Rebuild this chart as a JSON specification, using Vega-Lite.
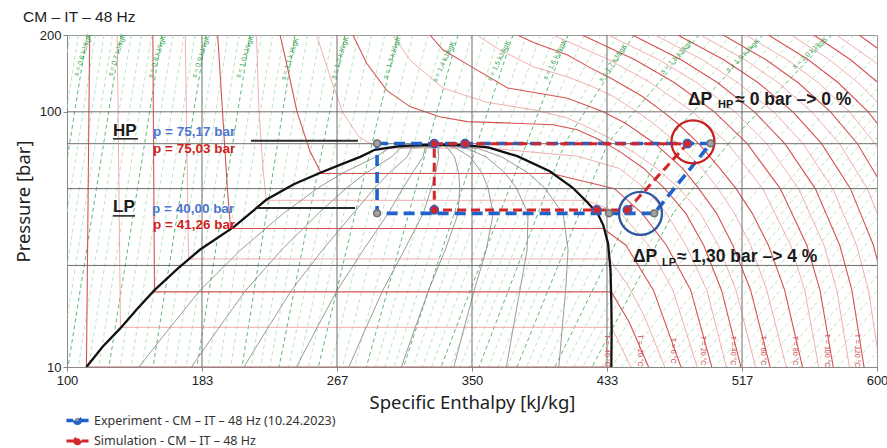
{
  "$schema": "https://vega.github.io/schema/vega-lite/v6.json",
  "width": 810,
  "height": 332,
  "autosize": {"type": "none"},
  "padding": {"left": 67, "top": 35, "right": 10, "bottom": 81},
  "background": "white",
  "title": {"text": "CM – IT – 48 Hz", "anchor": "start", "frame": "group", "dx": -44, "offset": 4, "fontSize": 15.5, "font": "Liberation Sans", "fontWeight": "normal", "color": "#222"},
  "config": {
    "view": {"stroke": "#9a9a9a"},
    "axis": {"grid": false, "labelFlush": false, "labelFont": "Liberation Sans", "labelFontSize": 13, "labelColor": "#222", "titleFont": "Noto Sans", "titleFontSize": 18.5, "titleFontWeight": "normal", "titleColor": "#222", "domainColor": "#888", "tickColor": "#888"}
  },
  "resolve": {"scale": {"color": "independent", "stroke": "independent", "fill": "independent", "size": "independent", "strokeWidth": "independent", "strokeDash": "independent", "angle": "independent"}},
  "datasets": {
    "isentropes": [
      {"s":0.55,"h1":101.9,"p1":200,"h2":69,"p2":10,"kind":"fine"},
      {"s":0.575,"h1":107.1,"p1":200,"h2":74.3,"p2":10,"kind":"fine"},
      {"s":0.6,"h1":112.3,"p1":200,"h2":79.6,"p2":10,"kind":"labeled"},
      {"s":0.625,"h1":117.55,"p1":200,"h2":84.85,"p2":10,"kind":"fine"},
      {"s":0.65,"h1":122.8,"p1":200,"h2":90.1,"p2":10,"kind":"fine"},
      {"s":0.675,"h1":128.05,"p1":200,"h2":95.35,"p2":10,"kind":"fine"},
      {"s":0.7,"h1":133.3,"p1":200,"h2":100.6,"p2":10,"kind":"labeled"},
      {"s":0.725,"h1":139.65,"p1":200,"h2":106.95,"p2":10,"kind":"fine"},
      {"s":0.75,"h1":146,"p1":200,"h2":113.3,"p2":10,"kind":"fine"},
      {"s":0.775,"h1":152.3,"p1":200,"h2":119.6,"p2":10,"kind":"fine"},
      {"s":0.8,"h1":158.6,"p1":200,"h2":125.9,"p2":10,"kind":"labeled"},
      {"s":0.825,"h1":165.4,"p1":200,"h2":132.7,"p2":10,"kind":"fine"},
      {"s":0.85,"h1":172.2,"p1":200,"h2":139.5,"p2":10,"kind":"fine"},
      {"s":0.875,"h1":179,"p1":200,"h2":146.3,"p2":10,"kind":"fine"},
      {"s":0.9,"h1":185.8,"p1":200,"h2":153.1,"p2":10,"kind":"labeled"},
      {"s":0.925,"h1":192.6,"p1":200,"h2":159.9,"p2":10,"kind":"fine"},
      {"s":0.95,"h1":199.4,"p1":200,"h2":166.7,"p2":10,"kind":"fine"},
      {"s":0.975,"h1":206.2,"p1":200,"h2":173.45,"p2":10,"kind":"fine"},
      {"s":1.0,"h1":213,"p1":200,"h2":180.2,"p2":10,"kind":"labeled"},
      {"s":1.025,"h1":219.95,"p1":200,"h2":187.15,"p2":10,"kind":"fine"},
      {"s":1.05,"h1":226.9,"p1":200,"h2":194.1,"p2":10,"kind":"fine"},
      {"s":1.075,"h1":233.8,"p1":200,"h2":201.05,"p2":10,"kind":"fine"},
      {"s":1.1,"h1":240.7,"p1":200,"h2":208,"p2":10,"kind":"labeled"},
      {"s":1.125,"h1":248.45,"p1":200,"h2":213.7,"p2":10,"kind":"fine"},
      {"s":1.15,"h1":256.2,"p1":200,"h2":219.4,"p2":10,"kind":"fine"},
      {"s":1.175,"h1":263.9,"p1":200,"h2":225.15,"p2":10,"kind":"fine"},
      {"s":1.2,"h1":271.6,"p1":200,"h2":230.9,"p2":10,"kind":"labeled"},
      {"s":1.225,"h1":279.8,"p1":200,"h2":236.9,"p2":10,"kind":"fine"},
      {"s":1.25,"h1":288,"p1":200,"h2":242.9,"p2":10,"kind":"fine"},
      {"s":1.275,"h1":296.15,"p1":200,"h2":249.05,"p2":10,"kind":"fine"},
      {"s":1.3,"h1":304.3,"p1":200,"h2":255.2,"p2":10,"kind":"labeled"},
      {"s":1.325,"h1":313.55,"p1":200,"h2":262.6,"p2":10,"kind":"fine"},
      {"s":1.35,"h1":322.8,"p1":200,"h2":270,"p2":10,"kind":"fine"},
      {"s":1.375,"h1":332.1,"p1":200,"h2":277.4,"p2":10,"kind":"fine"},
      {"s":1.4,"h1":341.4,"p1":200,"h2":284.8,"p2":10,"kind":"labeled"},
      {"s":1.425,"h1":349.85,"p1":200,"h2":290.5,"p2":10,"kind":"fine"},
      {"s":1.45,"h1":358.3,"p1":200,"h2":296.2,"p2":10,"kind":"fine"},
      {"s":1.475,"h1":366.8,"p1":200,"h2":301.95,"p2":10,"kind":"fine"},
      {"s":1.5,"h1":375.3,"p1":200,"h2":307.7,"p2":10,"kind":"labeled"},
      {"s":1.525,"h1":383.8,"p1":200,"h2":313.5,"p2":10,"kind":"fine"},
      {"s":1.55,"h1":392.3,"p1":200,"h2":319.3,"p2":10,"kind":"fine"},
      {"s":1.575,"h1":400.8,"p1":200,"h2":325.1,"p2":10,"kind":"fine"},
      {"s":1.6,"h1":409.3,"p1":200,"h2":330.9,"p2":10,"kind":"labeled"},
      {"s":1.625,"h1":419.45,"p1":200,"h2":389.7,"p2":75.5,"kind":"fine"},
      {"s":1.625,"h1":389.7,"p1":75.5,"h2":336.75,"p2":10,"kind":"fine"},
      {"s":1.65,"h1":429.6,"p1":200,"h2":395.6,"p2":75.5,"kind":"fine"},
      {"s":1.65,"h1":395.6,"p1":75.5,"h2":342.6,"p2":10,"kind":"fine"},
      {"s":1.675,"h1":439.8,"p1":200,"h2":401.5,"p2":75.5,"kind":"fine"},
      {"s":1.675,"h1":401.5,"p1":75.5,"h2":348.45,"p2":10,"kind":"fine"},
      {"s":1.7,"h1":450,"p1":200,"h2":407.4,"p2":75.5,"kind":"labeled"},
      {"s":1.7,"h1":407.4,"p1":75.5,"h2":354.3,"p2":10,"kind":"labeled"},
      {"s":1.725,"h1":460.05,"p1":200,"h2":414.05,"p2":75.5,"kind":"fine"},
      {"s":1.725,"h1":414.05,"p1":75.5,"h2":360.15,"p2":10,"kind":"fine"},
      {"s":1.75,"h1":470.1,"p1":200,"h2":420.7,"p2":75.5,"kind":"fine"},
      {"s":1.75,"h1":420.7,"p1":75.5,"h2":366,"p2":10,"kind":"fine"},
      {"s":1.775,"h1":480.1,"p1":200,"h2":427.3,"p2":75.5,"kind":"fine"},
      {"s":1.775,"h1":427.3,"p1":75.5,"h2":371.9,"p2":10,"kind":"fine"},
      {"s":1.8,"h1":490.1,"p1":200,"h2":433.9,"p2":75.5,"kind":"labeled"},
      {"s":1.8,"h1":433.9,"p1":75.5,"h2":377.8,"p2":10,"kind":"labeled"},
      {"s":1.825,"h1":500,"p1":200,"h2":442.7,"p2":75.5,"kind":"fine"},
      {"s":1.825,"h1":442.7,"p1":75.5,"h2":383.65,"p2":10,"kind":"fine"},
      {"s":1.85,"h1":509.9,"p1":200,"h2":451.5,"p2":75.5,"kind":"fine"},
      {"s":1.85,"h1":451.5,"p1":75.5,"h2":389.5,"p2":10,"kind":"fine"},
      {"s":1.875,"h1":519.75,"p1":200,"h2":460.25,"p2":75.5,"kind":"fine"},
      {"s":1.875,"h1":460.25,"p1":75.5,"h2":395.35,"p2":10,"kind":"fine"},
      {"s":1.9,"h1":529.6,"p1":200,"h2":469,"p2":75.5,"kind":"labeled"},
      {"s":1.9,"h1":469,"p1":75.5,"h2":401.2,"p2":10,"kind":"labeled"},
      {"s":1.925,"h1":540.25,"p1":200,"h2":478.95,"p2":75.5,"kind":"fine"},
      {"s":1.925,"h1":478.95,"p1":75.5,"h2":406.95,"p2":10,"kind":"fine"},
      {"s":1.95,"h1":550.9,"p1":200,"h2":488.9,"p2":75.5,"kind":"fine"},
      {"s":1.95,"h1":488.9,"p1":75.5,"h2":412.7,"p2":10,"kind":"fine"},
      {"s":1.975,"h1":561.55,"p1":200,"h2":498.75,"p2":75.5,"kind":"fine"},
      {"s":1.975,"h1":498.75,"p1":75.5,"h2":469.5,"p2":40,"kind":"fine"},
      {"s":1.975,"h1":469.5,"p1":40,"h2":418.4,"p2":10,"kind":"fine"},
      {"s":2.0,"h1":572.2,"p1":200,"h2":508.6,"p2":75.5,"kind":"labeled"},
      {"s":2.0,"h1":508.6,"p1":75.5,"h2":474.1,"p2":40,"kind":"labeled"},
      {"s":2.0,"h1":474.1,"p1":40,"h2":424.1,"p2":10,"kind":"labeled"},
      {"s":2.025,"h1":585.8,"p1":200,"h2":522.2,"p2":75.5,"kind":"fine"},
      {"s":2.025,"h1":522.2,"p1":75.5,"h2":486.6,"p2":40,"kind":"fine"},
      {"s":2.025,"h1":486.6,"p1":40,"h2":430.1,"p2":10,"kind":"fine"},
      {"s":2.05,"h1":599.4,"p1":200,"h2":535.8,"p2":75.5,"kind":"fine"},
      {"s":2.05,"h1":535.8,"p1":75.5,"h2":499.1,"p2":40,"kind":"fine"},
      {"s":2.05,"h1":499.1,"p1":40,"h2":436.1,"p2":10,"kind":"fine"},
      {"s":2.075,"h1":610.8,"p1":200,"h2":550.65,"p2":75.5,"kind":"fine"},
      {"s":2.075,"h1":550.65,"p1":75.5,"h2":514,"p2":40,"kind":"fine"},
      {"s":2.075,"h1":514,"p1":40,"h2":442.1,"p2":10,"kind":"fine"},
      {"s":2.1,"h1":622.2,"p1":200,"h2":448.1,"p2":10,"kind":"fine"},
      {"s":2.125,"h1":628.4,"p1":200,"h2":454.3,"p2":10,"kind":"fine"},
      {"s":2.15,"h1":634.6,"p1":200,"h2":460.5,"p2":10,"kind":"fine"},
      {"s":2.175,"h1":640.75,"p1":200,"h2":466.65,"p2":10,"kind":"fine"},
      {"s":2.2,"h1":646.9,"p1":200,"h2":472.8,"p2":10,"kind":"fine"},
      {"s":2.225,"h1":653.7,"p1":200,"h2":479.6,"p2":10,"kind":"fine"},
      {"s":2.25,"h1":660.5,"p1":200,"h2":486.4,"p2":10,"kind":"fine"},
      {"s":2.275,"h1":667.3,"p1":200,"h2":493.2,"p2":10,"kind":"fine"},
      {"s":2.3,"h1":674.1,"p1":200,"h2":500,"p2":10,"kind":"fine"},
      {"s":2.325,"h1":681.35,"p1":200,"h2":507.25,"p2":10,"kind":"fine"},
      {"s":2.35,"h1":688.6,"p1":200,"h2":514.5,"p2":10,"kind":"fine"},
      {"s":2.375,"h1":695.85,"p1":200,"h2":521.75,"p2":10,"kind":"fine"},
      {"s":2.4,"h1":703.1,"p1":200,"h2":529,"p2":10,"kind":"fine"},
      {"s":2.425,"h1":710.8,"p1":200,"h2":536.7,"p2":10,"kind":"fine"},
      {"s":2.45,"h1":718.5,"p1":200,"h2":544.4,"p2":10,"kind":"fine"},
      {"s":2.475,"h1":726.2,"p1":200,"h2":552.15,"p2":10,"kind":"fine"},
      {"s":2.5,"h1":733.9,"p1":200,"h2":559.9,"p2":10,"kind":"fine"},
      {"s":2.525,"h1":741.95,"p1":200,"h2":567.9,"p2":10,"kind":"fine"},
      {"s":2.55,"h1":750,"p1":200,"h2":575.9,"p2":10,"kind":"fine"},
      {"s":2.575,"h1":758,"p1":200,"h2":583.95,"p2":10,"kind":"fine"},
      {"s":2.6,"h1":766,"p1":200,"h2":592,"p2":10,"kind":"fine"},
      {"s":2.625,"h1":774,"p1":200,"h2":600,"p2":10,"kind":"fine"},
      {"s":2.65,"h1":782,"p1":200,"h2":608,"p2":10,"kind":"fine"}
    ],
    "isotherms": [
      {"T":-40,"kind":"major","o":1,"h":114,"p":200},{"T":-40,"kind":"major","o":2,"h":112,"p":10},{"T":-40,"kind":"major","o":3,"h":436,"p":10},
      {"T":-30,"kind":"minor","o":1,"h":131,"p":200},{"T":-30,"kind":"minor","o":2,"h":133,"p":14.3},{"T":-30,"kind":"minor","o":3,"h":436.2,"p":14.3},{"T":-30,"kind":"minor","o":4,"h":448,"p":10},
      {"T":-20,"kind":"major","o":1,"h":153,"p":200},{"T":-20,"kind":"major","o":2,"h":154,"p":19.7},{"T":-20,"kind":"major","o":3,"h":436,"p":19.7},{"T":-20,"kind":"major","o":4,"h":447,"p":15},{"T":-20,"kind":"major","o":5,"h":459,"p":10},
      {"T":-10,"kind":"minor","o":1,"h":173,"p":200},{"T":-10,"kind":"minor","o":2,"h":175,"p":26.5},{"T":-10,"kind":"minor","o":3,"h":435,"p":26.5},{"T":-10,"kind":"minor","o":4,"h":446,"p":21},{"T":-10,"kind":"minor","o":5,"h":456,"p":16},{"T":-10,"kind":"minor","o":6,"h":469,"p":10},
      {"T":0,"kind":"major","o":1,"h":193,"p":200},{"T":0,"kind":"major","o":2,"h":196,"p":100},{"T":0,"kind":"major","o":3,"h":199,"p":50},{"T":0,"kind":"major","o":4,"h":201,"p":34.9},{"T":0,"kind":"major","o":5,"h":431,"p":34.9},{"T":0,"kind":"major","o":6,"h":445,"p":30},{"T":0,"kind":"major","o":7,"h":462,"p":20},{"T":0,"kind":"major","o":8,"h":479,"p":10},
      {"T":10,"kind":"minor","o":1,"h":217,"p":200},{"T":10,"kind":"minor","o":2,"h":218.5,"p":100},{"T":10,"kind":"minor","o":3,"h":221,"p":60},{"T":10,"kind":"minor","o":4,"h":223,"p":45},{"T":10,"kind":"minor","o":5,"h":420,"p":45},{"T":10,"kind":"minor","o":6,"h":442,"p":40},{"T":10,"kind":"minor","o":7,"h":459,"p":30},{"T":10,"kind":"minor","o":8,"h":474,"p":20},{"T":10,"kind":"minor","o":9,"h":489,"p":10},
      {"T":20,"kind":"major","o":1,"h":231.5,"p":200},{"T":20,"kind":"major","o":2,"h":236,"p":150},{"T":20,"kind":"major","o":3,"h":242,"p":100},{"T":20,"kind":"major","o":4,"h":250,"p":70},{"T":20,"kind":"major","o":5,"h":257,"p":57.3},{"T":20,"kind":"major","o":6,"h":399,"p":57.3},{"T":20,"kind":"major","o":7,"h":438,"p":50},{"T":20,"kind":"major","o":8,"h":455,"p":40},{"T":20,"kind":"major","o":9,"h":470,"p":30},{"T":20,"kind":"major","o":10,"h":485,"p":20},{"T":20,"kind":"major","o":11,"h":498,"p":10},
      {"T":30,"kind":"minor","o":1,"h":254,"p":200},{"T":30,"kind":"minor","o":2,"h":262,"p":140},{"T":30,"kind":"minor","o":3,"h":270,"p":100},{"T":30,"kind":"minor","o":4,"h":280,"p":80},{"T":30,"kind":"minor","o":5,"h":292,"p":72.1},{"T":30,"kind":"minor","o":6,"h":360,"p":72.1},{"T":30,"kind":"minor","o":7,"h":415,"p":67},{"T":30,"kind":"minor","o":8,"h":441,"p":60},{"T":30,"kind":"minor","o":9,"h":457,"p":50},{"T":30,"kind":"minor","o":10,"h":470,"p":40},{"T":30,"kind":"minor","o":11,"h":482,"p":30},{"T":30,"kind":"minor","o":12,"h":495,"p":20},{"T":30,"kind":"minor","o":13,"h":507,"p":10},
      {"T":40,"kind":"major","o":1,"h":276.5,"p":200},{"T":40,"kind":"major","o":2,"h":285,"p":155},{"T":40,"kind":"major","o":3,"h":297.5,"p":121},{"T":40,"kind":"major","o":4,"h":312,"p":104.6},{"T":40,"kind":"major","o":5,"h":330,"p":95.6},{"T":40,"kind":"major","o":6,"h":347,"p":91.5},{"T":40,"kind":"major","o":7,"h":370,"p":90.5},{"T":40,"kind":"major","o":8,"h":400,"p":89},{"T":40,"kind":"major","o":9,"h":415,"p":85},{"T":40,"kind":"major","o":10,"h":428,"p":78},{"T":40,"kind":"major","o":11,"h":441,"p":70},{"T":40,"kind":"major","o":12,"h":456,"p":60},{"T":40,"kind":"major","o":13,"h":469,"p":50},{"T":40,"kind":"major","o":14,"h":482,"p":40},{"T":40,"kind":"major","o":15,"h":493,"p":30},{"T":40,"kind":"major","o":16,"h":504,"p":20},{"T":40,"kind":"major","o":17,"h":516,"p":10},
      {"T":50,"kind":"minor","o":1,"h":301,"p":200},{"T":50,"kind":"minor","o":2,"h":312,"p":159},{"T":50,"kind":"minor","o":3,"h":332,"p":124},{"T":50,"kind":"minor","o":4,"h":359,"p":109},{"T":50,"kind":"minor","o":5,"h":388,"p":101.8},{"T":50,"kind":"minor","o":6,"h":408,"p":95},{"T":50,"kind":"minor","o":7,"h":420,"p":88},{"T":50,"kind":"minor","o":8,"h":433,"p":80},{"T":50,"kind":"minor","o":9,"h":449,"p":70},{"T":50,"kind":"minor","o":10,"h":464,"p":60},{"T":50,"kind":"minor","o":11,"h":478,"p":50},{"T":50,"kind":"minor","o":12,"h":491,"p":40},{"T":50,"kind":"minor","o":13,"h":502,"p":30},{"T":50,"kind":"minor","o":14,"h":513,"p":20},{"T":50,"kind":"minor","o":15,"h":525,"p":10},
      {"T":60,"kind":"major","o":1,"h":324,"p":200},{"T":60,"kind":"major","o":2,"h":332,"p":175},{"T":60,"kind":"major","o":3,"h":349,"p":151},{"T":60,"kind":"major","o":4,"h":372,"p":124},{"T":60,"kind":"major","o":5,"h":392,"p":118},{"T":60,"kind":"major","o":6,"h":409,"p":113},{"T":60,"kind":"major","o":7,"h":431,"p":100},{"T":60,"kind":"major","o":8,"h":445,"p":90},{"T":60,"kind":"major","o":9,"h":463,"p":75},{"T":60,"kind":"major","o":10,"h":480,"p":60},{"T":60,"kind":"major","o":11,"h":490,"p":50},{"T":60,"kind":"major","o":12,"h":501,"p":40},{"T":60,"kind":"major","o":13,"h":511,"p":30},{"T":60,"kind":"major","o":14,"h":522,"p":20},{"T":60,"kind":"major","o":15,"h":534,"p":10},
      {"T":70,"kind":"minor","o":1,"h":353,"p":200},{"T":70,"kind":"minor","o":2,"h":367,"p":175},{"T":70,"kind":"minor","o":3,"h":388,"p":150},{"T":70,"kind":"minor","o":4,"h":409,"p":137},{"T":70,"kind":"minor","o":5,"h":425,"p":125},{"T":70,"kind":"minor","o":6,"h":437,"p":115},{"T":70,"kind":"minor","o":7,"h":452,"p":100},{"T":70,"kind":"minor","o":8,"h":462,"p":90},{"T":70,"kind":"minor","o":9,"h":477,"p":75},{"T":70,"kind":"minor","o":10,"h":492,"p":60},{"T":70,"kind":"minor","o":11,"h":502,"p":50},{"T":70,"kind":"minor","o":12,"h":512,"p":40},{"T":70,"kind":"minor","o":13,"h":522,"p":30},{"T":70,"kind":"minor","o":14,"h":532,"p":20},{"T":70,"kind":"minor","o":15,"h":544,"p":10},
      {"T":80,"kind":"major","o":1,"h":378,"p":200},{"T":80,"kind":"major","o":2,"h":388,"p":187},{"T":80,"kind":"major","o":3,"h":409,"p":167},{"T":80,"kind":"major","o":4,"h":422,"p":150},{"T":80,"kind":"major","o":5,"h":436,"p":135},{"T":80,"kind":"major","o":6,"h":455,"p":115},{"T":80,"kind":"major","o":7,"h":468,"p":100},{"T":80,"kind":"major","o":8,"h":477,"p":90},{"T":80,"kind":"major","o":9,"h":490,"p":75},{"T":80,"kind":"major","o":10,"h":503,"p":60},{"T":80,"kind":"major","o":11,"h":513,"p":50},{"T":80,"kind":"major","o":12,"h":523,"p":40},{"T":80,"kind":"major","o":13,"h":533,"p":30},{"T":80,"kind":"major","o":14,"h":543,"p":20},{"T":80,"kind":"major","o":15,"h":554,"p":10},
      {"T":90,"kind":"minor","o":1,"h":564,"p":10},{"T":90,"kind":"minor","o":2,"h":555.4,"p":20},{"T":90,"kind":"minor","o":3,"h":546.7,"p":30},{"T":90,"kind":"minor","o":4,"h":529.5,"p":50},{"T":90,"kind":"minor","o":5,"h":507.9,"p":75},{"T":90,"kind":"minor","o":6,"h":486.3,"p":100},{"T":90,"kind":"minor","o":7,"h":460.4,"p":130},{"T":90,"kind":"minor","o":8,"h":434.5,"p":160},{"T":90,"kind":"minor","o":9,"h":400,"p":200},
      {"T":100,"kind":"major","o":1,"h":573,"p":10},{"T":100,"kind":"major","o":2,"h":564.8,"p":20},{"T":100,"kind":"major","o":3,"h":556.7,"p":30},{"T":100,"kind":"major","o":4,"h":540.3,"p":50},{"T":100,"kind":"major","o":5,"h":519.9,"p":75},{"T":100,"kind":"major","o":6,"h":499.6,"p":100},{"T":100,"kind":"major","o":7,"h":475.1,"p":130},{"T":100,"kind":"major","o":8,"h":450.6,"p":160},{"T":100,"kind":"major","o":9,"h":418,"p":200},
      {"T":110,"kind":"minor","o":1,"h":583,"p":10},{"T":110,"kind":"minor","o":2,"h":575.2,"p":20},{"T":110,"kind":"minor","o":3,"h":567.3,"p":30},{"T":110,"kind":"minor","o":4,"h":551.6,"p":50},{"T":110,"kind":"minor","o":5,"h":532,"p":75},{"T":110,"kind":"minor","o":6,"h":512.4,"p":100},{"T":110,"kind":"minor","o":7,"h":488.9,"p":130},{"T":110,"kind":"minor","o":8,"h":465.3,"p":160},{"T":110,"kind":"minor","o":9,"h":434,"p":200},
      {"T":120,"kind":"major","o":1,"h":592,"p":10},{"T":120,"kind":"major","o":2,"h":584.5,"p":20},{"T":120,"kind":"major","o":3,"h":577,"p":30},{"T":120,"kind":"major","o":4,"h":561.9,"p":50},{"T":120,"kind":"major","o":5,"h":543.1,"p":75},{"T":120,"kind":"major","o":6,"h":524.3,"p":100},{"T":120,"kind":"major","o":7,"h":501.7,"p":130},{"T":120,"kind":"major","o":8,"h":479.1,"p":160},{"T":120,"kind":"major","o":9,"h":449,"p":200},
      {"T":130,"kind":"minor","o":1,"h":602,"p":10},{"T":130,"kind":"minor","o":2,"h":594.7,"p":20},{"T":130,"kind":"minor","o":3,"h":587.4,"p":30},{"T":130,"kind":"minor","o":4,"h":572.7,"p":50},{"T":130,"kind":"minor","o":5,"h":554.4,"p":75},{"T":130,"kind":"minor","o":6,"h":536.2,"p":100},{"T":130,"kind":"minor","o":7,"h":514.2,"p":130},{"T":130,"kind":"minor","o":8,"h":492.2,"p":160},{"T":130,"kind":"minor","o":9,"h":463,"p":200},
      {"T":140,"kind":"major","o":1,"h":612,"p":10},{"T":140,"kind":"major","o":2,"h":604.9,"p":20},{"T":140,"kind":"major","o":3,"h":597.8,"p":30},{"T":140,"kind":"major","o":4,"h":583.6,"p":50},{"T":140,"kind":"major","o":5,"h":565.8,"p":75},{"T":140,"kind":"major","o":6,"h":548.1,"p":100},{"T":140,"kind":"major","o":7,"h":526.7,"p":130},{"T":140,"kind":"major","o":8,"h":505.4,"p":160},{"T":140,"kind":"major","o":9,"h":477,"p":200},
      {"T":150,"kind":"minor","o":1,"h":621.5,"p":10},{"T":150,"kind":"minor","o":2,"h":614.6,"p":20},{"T":150,"kind":"minor","o":3,"h":607.8,"p":30},{"T":150,"kind":"minor","o":4,"h":594,"p":50},{"T":150,"kind":"minor","o":5,"h":576.9,"p":75},{"T":150,"kind":"minor","o":6,"h":559.7,"p":100},{"T":150,"kind":"minor","o":7,"h":539.1,"p":130},{"T":150,"kind":"minor","o":8,"h":518.5,"p":160},{"T":150,"kind":"minor","o":9,"h":491,"p":200},
      {"T":160,"kind":"major","o":1,"h":631,"p":10},{"T":160,"kind":"major","o":2,"h":624.4,"p":20},{"T":160,"kind":"major","o":3,"h":617.7,"p":30},{"T":160,"kind":"major","o":4,"h":604.5,"p":50},{"T":160,"kind":"major","o":5,"h":587.9,"p":75},{"T":160,"kind":"major","o":6,"h":571.3,"p":100},{"T":160,"kind":"major","o":7,"h":551.4,"p":130},{"T":160,"kind":"major","o":8,"h":531.5,"p":160},{"T":160,"kind":"major","o":9,"h":505,"p":200},
      {"T":170,"kind":"minor","o":1,"h":640.5,"p":10},{"T":170,"kind":"minor","o":2,"h":634.1,"p":20},{"T":170,"kind":"minor","o":3,"h":627.7,"p":30},{"T":170,"kind":"minor","o":4,"h":614.9,"p":50},{"T":170,"kind":"minor","o":5,"h":598.9,"p":75},{"T":170,"kind":"minor","o":6,"h":582.9,"p":100},{"T":170,"kind":"minor","o":7,"h":563.8,"p":130},{"T":170,"kind":"minor","o":8,"h":544.6,"p":160},{"T":170,"kind":"minor","o":9,"h":519,"p":200},
      {"T":180,"kind":"major","o":1,"h":650,"p":10},{"T":180,"kind":"major","o":2,"h":643.8,"p":20},{"T":180,"kind":"major","o":3,"h":637.7,"p":30},{"T":180,"kind":"major","o":4,"h":625.4,"p":50},{"T":180,"kind":"major","o":5,"h":609.9,"p":75},{"T":180,"kind":"major","o":6,"h":594.6,"p":100},{"T":180,"kind":"major","o":7,"h":576.1,"p":130},{"T":180,"kind":"major","o":8,"h":557.6,"p":160},{"T":180,"kind":"major","o":9,"h":533,"p":200},
      {"T":190,"kind":"minor","o":1,"h":659.5,"p":10},{"T":190,"kind":"minor","o":2,"h":653.6,"p":20},{"T":190,"kind":"minor","o":3,"h":647.7,"p":30},{"T":190,"kind":"minor","o":4,"h":635.8,"p":50},{"T":190,"kind":"minor","o":5,"h":621,"p":75},{"T":190,"kind":"minor","o":6,"h":606.2,"p":100},{"T":190,"kind":"minor","o":7,"h":588.4,"p":130},{"T":190,"kind":"minor","o":8,"h":570.7,"p":160},{"T":190,"kind":"minor","o":9,"h":547,"p":200},
      {"T":200,"kind":"major","o":1,"h":669,"p":10},{"T":200,"kind":"major","o":2,"h":663.3,"p":20},{"T":200,"kind":"major","o":3,"h":657.6,"p":30},{"T":200,"kind":"major","o":4,"h":646.3,"p":50},{"T":200,"kind":"major","o":5,"h":632.1,"p":75},{"T":200,"kind":"major","o":6,"h":617.8,"p":100},{"T":200,"kind":"major","o":7,"h":600.8,"p":130},{"T":200,"kind":"major","o":8,"h":583.7,"p":160},{"T":200,"kind":"major","o":9,"h":561,"p":200},
      {"T":210,"kind":"minor","o":1,"h":678.5,"p":10},{"T":210,"kind":"minor","o":2,"h":673.1,"p":20},{"T":210,"kind":"minor","o":3,"h":667.6,"p":30},{"T":210,"kind":"minor","o":4,"h":656.7,"p":50},{"T":210,"kind":"minor","o":5,"h":643.1,"p":75},{"T":210,"kind":"minor","o":6,"h":629.5,"p":100},{"T":210,"kind":"minor","o":7,"h":613.1,"p":130},{"T":210,"kind":"minor","o":8,"h":596.8,"p":160},{"T":210,"kind":"minor","o":9,"h":575,"p":200},
      {"T":220,"kind":"major","o":1,"h":688,"p":10},{"T":220,"kind":"major","o":2,"h":682.8,"p":20},{"T":220,"kind":"major","o":3,"h":677.6,"p":30},{"T":220,"kind":"major","o":4,"h":667.2,"p":50},{"T":220,"kind":"major","o":5,"h":654.2,"p":75},{"T":220,"kind":"major","o":6,"h":641.1,"p":100},{"T":220,"kind":"major","o":7,"h":625.5,"p":130},{"T":220,"kind":"major","o":8,"h":609.9,"p":160},{"T":220,"kind":"major","o":9,"h":589,"p":200}
    ],
    "quality": [
      {"x":0.1,"o":1,"h":144.4,"p":10},{"x":0.1,"o":2,"h":163.3,"p":14.2},{"x":0.1,"o":3,"h":182.2,"p":20},{"x":0.1,"o":4,"h":207.3,"p":28.8},{"x":0.1,"o":5,"h":233.6,"p":40},{"x":0.1,"o":6,"h":255.4,"p":50.5},{"x":0.1,"o":7,"h":270.3,"p":57.6},{"x":0.1,"o":8,"h":290.7,"p":66.6},{"x":0.1,"o":9,"h":298.8,"p":72},{"x":0.1,"o":10,"h":332,"p":74.2},
      {"x":0.2,"o":1,"h":176.8,"p":10},{"x":0.2,"o":2,"h":193.6,"p":14.2},{"x":0.2,"o":3,"h":210.4,"p":20},{"x":0.2,"o":4,"h":232.5,"p":28.8},{"x":0.2,"o":5,"h":255.2,"p":40},{"x":0.2,"o":6,"h":272.8,"p":50.5},{"x":0.2,"o":7,"h":284.6,"p":57.6},{"x":0.2,"o":8,"h":300.4,"p":66.6},{"x":0.2,"o":9,"h":305.6,"p":72},{"x":0.2,"o":10,"h":332,"p":74.2},
      {"x":0.3,"o":1,"h":209.2,"p":10},{"x":0.3,"o":2,"h":223.9,"p":14.2},{"x":0.3,"o":3,"h":238.6,"p":20},{"x":0.3,"o":4,"h":257.8,"p":28.8},{"x":0.3,"o":5,"h":276.7,"p":40},{"x":0.3,"o":6,"h":290.2,"p":50.5},{"x":0.3,"o":7,"h":298.9,"p":57.6},{"x":0.3,"o":8,"h":310.1,"p":66.6},{"x":0.3,"o":9,"h":312.4,"p":72},{"x":0.3,"o":10,"h":332,"p":74.2},
      {"x":0.4,"o":1,"h":241.6,"p":10},{"x":0.4,"o":2,"h":254.2,"p":14.2},{"x":0.4,"o":3,"h":266.8,"p":20},{"x":0.4,"o":4,"h":283,"p":28.8},{"x":0.4,"o":5,"h":298.3,"p":40},{"x":0.4,"o":6,"h":307.6,"p":50.5},{"x":0.4,"o":7,"h":313.2,"p":57.6},{"x":0.4,"o":8,"h":319.8,"p":66.6},{"x":0.4,"o":9,"h":321,"p":72},{"x":0.4,"o":10,"h":332,"p":74.2},
      {"x":0.5,"o":1,"h":274,"p":10},{"x":0.5,"o":2,"h":284.5,"p":14.2},{"x":0.5,"o":3,"h":295,"p":20},{"x":0.5,"o":4,"h":308.3,"p":28.8},{"x":0.5,"o":5,"h":319.9,"p":40},{"x":0.5,"o":6,"h":325,"p":50.5},{"x":0.5,"o":7,"h":327.5,"p":57.6},{"x":0.5,"o":8,"h":329.5,"p":66.6},{"x":0.5,"o":9,"h":329,"p":72},{"x":0.5,"o":10,"h":332,"p":74.2},
      {"x":0.6,"o":1,"h":306.4,"p":10},{"x":0.6,"o":2,"h":314.8,"p":14.2},{"x":0.6,"o":3,"h":323.2,"p":20},{"x":0.6,"o":4,"h":333.5,"p":28.8},{"x":0.6,"o":5,"h":341.5,"p":40},{"x":0.6,"o":6,"h":342.4,"p":50.5},{"x":0.6,"o":7,"h":341.8,"p":57.6},{"x":0.6,"o":8,"h":339.2,"p":66.6},{"x":0.6,"o":9,"h":335,"p":72},{"x":0.6,"o":10,"h":332,"p":74.2},
      {"x":0.7,"o":1,"h":338.8,"p":10},{"x":0.7,"o":2,"h":345.1,"p":14.2},{"x":0.7,"o":3,"h":351.4,"p":20},{"x":0.7,"o":4,"h":358.8,"p":28.8},{"x":0.7,"o":5,"h":363.1,"p":40},{"x":0.7,"o":6,"h":359.8,"p":50.5},{"x":0.7,"o":7,"h":356.1,"p":57.6},{"x":0.7,"o":8,"h":348.9,"p":66.6},{"x":0.7,"o":9,"h":340,"p":72},{"x":0.7,"o":10,"h":332,"p":74.2},
      {"x":0.8,"o":1,"h":371.2,"p":10},{"x":0.8,"o":2,"h":375.4,"p":14.2},{"x":0.8,"o":3,"h":379.6,"p":20},{"x":0.8,"o":4,"h":384,"p":28.8},{"x":0.8,"o":5,"h":384.6,"p":40},{"x":0.8,"o":6,"h":377.2,"p":50.5},{"x":0.8,"o":7,"h":370.4,"p":57.6},{"x":0.8,"o":8,"h":358.6,"p":66.6},{"x":0.8,"o":9,"h":346.4,"p":72},{"x":0.8,"o":10,"h":332,"p":74.2},
      {"x":0.9,"o":1,"h":403.6,"p":10},{"x":0.9,"o":2,"h":405.7,"p":14.2},{"x":0.9,"o":3,"h":407.8,"p":20},{"x":0.9,"o":4,"h":409.3,"p":28.8},{"x":0.9,"o":5,"h":406.2,"p":40},{"x":0.9,"o":6,"h":394.6,"p":50.5},{"x":0.9,"o":7,"h":384.7,"p":57.6},{"x":0.9,"o":8,"h":368.3,"p":66.6},{"x":0.9,"o":9,"h":353.2,"p":72},{"x":0.9,"o":10,"h":332,"p":74.2}
    ],
    "dome": [
      {"o":1,"h":112,"p":10},{"o":2,"h":122,"p":12},{"o":3,"h":133,"p":14.2},{"o":4,"h":143,"p":16.8},{"o":5,"h":154,"p":20},{"o":6,"h":168,"p":24.2},{"o":7,"h":182,"p":28.8},{"o":8,"h":203,"p":35.4},{"o":9,"h":223,"p":45.2},{"o":10,"h":240,"p":52},{"o":11,"h":256,"p":57.6},{"o":12,"h":270,"p":62.5},{"o":13,"h":281,"p":66.6},{"o":14,"h":290,"p":71},{"o":15,"h":305,"p":73.4},{"o":16,"h":318,"p":74},{"o":17,"h":332,"p":74.3},
      {"o":18,"h":345,"p":74},{"o":19,"h":360,"p":72.5},{"o":20,"h":378,"p":67},{"o":21,"h":398,"p":58.5},{"o":22,"h":412,"p":50.5},{"o":23,"h":420,"p":45},{"o":24,"h":427.5,"p":40},{"o":25,"h":431,"p":36},{"o":26,"h":434,"p":30.5},{"o":27,"h":435.5,"p":24},{"o":28,"h":436,"p":18},{"o":29,"h":436.2,"p":14},{"o":30,"h":436,"p":10}
    ],
    "gridH": [{"h":183.333},{"h":266.667},{"h":350},{"h":433.333},{"h":516.667}],
    "gridP": [{"p":25},{"p":50},{"p":75},{"p":100}],
    "leaders": [
      {"h1":213.6,"h2":279.6,"p":77.0,"kind":"leader"},
      {"h1":217.3,"h2":277.8,"p":42.0,"kind":"leader"},
      {"h1":128.4,"h2":143.8,"p":78.4,"kind":"underline"},
      {"h1":128.4,"h2":142,"p":39.1,"kind":"underline"}
    ],
    "cycles": [
      {"series":"Experiment - CM – IT – 48 Hz (10.24.2023)","o":1,"h":291.4,"p":75.17},
      {"series":"Experiment - CM – IT – 48 Hz (10.24.2023)","o":2,"h":497.3,"p":75.17},
      {"series":"Experiment - CM – IT – 48 Hz (10.24.2023)","o":3,"h":462.5,"p":40},
      {"series":"Experiment - CM – IT – 48 Hz (10.24.2023)","o":4,"h":291.4,"p":40},
      {"series":"Experiment - CM – IT – 48 Hz (10.24.2023)","o":5,"h":291.4,"p":75.17},
      {"series":"Simulation - CM – IT – 48 Hz","o":1,"h":326.7,"p":75.03},
      {"series":"Simulation - CM – IT – 48 Hz","o":2,"h":483,"p":75.03},
      {"series":"Simulation - CM – IT – 48 Hz","o":3,"h":445.9,"p":41.26},
      {"series":"Simulation - CM – IT – 48 Hz","o":4,"h":326.7,"p":41.26},
      {"series":"Simulation - CM – IT – 48 Hz","o":5,"h":326.7,"p":75.03}
    ],
    "states": [
      {"series":"Experiment","h":291.4,"p":75.17},
      {"series":"Experiment","h":497.3,"p":75.17},
      {"series":"Experiment","h":462.5,"p":40},
      {"series":"Experiment","h":434.6,"p":40},
      {"series":"Experiment","h":291.4,"p":40},
      {"series":"Simulation","h":326.7,"p":75.03},
      {"series":"Simulation","h":345.7,"p":75.03},
      {"series":"Simulation","h":483,"p":75.03},
      {"series":"Simulation","h":445.9,"p":41.26},
      {"series":"Simulation","h":427,"p":41.26},
      {"series":"Simulation","h":326.7,"p":41.26}
    ],
    "circles": [
      {"c":"HP","h":486.4,"p":76.3},
      {"c":"LP","h":454,"p":40}
    ],
    "notes": [
      {"txt":"HP","h":128.4,"p":80.5,"kind":"label"},
      {"txt":"LP","h":128.4,"p":40.5,"kind":"label"},
      {"txt":"p = 75,17 bar","h":153.1,"p":80.5,"kind":"exp"},
      {"txt":"p = 75,03 bar","h":153.1,"p":69.0,"kind":"sim"},
      {"txt":"p = 40,00 bar","h":152.5,"p":40.1,"kind":"exp"},
      {"txt":"p = 41,26 bar","h":153.1,"p":34.8,"kind":"sim"},
      {"txt":"ΔP","h":483.3,"p":106.5,"kind":"delta"},
      {"txt":"HP","h":501.9,"p":103.7,"kind":"sub"},
      {"txt":"≈ 0 bar –> 0 %","h":512.5,"p":106.5,"kind":"delta"},
      {"txt":"ΔP","h":449.4,"p":25.8,"kind":"delta"},
      {"txt":"LP","h":467.3,"p":24.9,"kind":"sub"},
      {"txt":"≈ 1,30 bar –> 4 %","h":476.5,"p":25.8,"kind":"delta"}
    ],
    "slabels": [
      {"s":0.6,"txt":"s = 0,6 kJ/kgK","h":109.9,"p":167.3},
      {"s":0.7,"txt":"s = 0,7 kJ/kgK","h":130.9,"p":167.3},
      {"s":0.8,"txt":"s = 0,8 kJ/kgK","h":155.6,"p":164.4},
      {"s":0.9,"txt":"s = 0,9 kJ/kgK","h":182.7,"p":164.4},
      {"s":1.0,"txt":"s = 1,0 kJ/kgK","h":209.9,"p":164.4},
      {"s":1.1,"txt":"s = 1,1 kJ/kgK","h":237.7,"p":161.3},
      {"s":1.2,"txt":"s = 1,2 kJ/kgK","h":268.5,"p":162.9},
      {"s":1.3,"txt":"s = 1,3 kJ/kgK","h":300.6,"p":162.9},
      {"s":1.4,"txt":"s = 1,4 kJ/kgK","h":332.7,"p":157.1},
      {"s":1.5,"txt":"s = 1,5 kJ/kgK","h":366.7,"p":158.6},
      {"s":1.6,"txt":"s = 1,6 kJ/kgK","h":401.2,"p":160.1},
      {"s":1.7,"txt":"s = 1,7 kJ/kgK","h":437.0,"p":155.6},
      {"s":1.8,"txt":"s = 1,8 kJ/kgK","h":476.5,"p":164.4},
      {"s":1.9,"txt":"s = 1,9 kJ/kgK","h":517.3,"p":166.0},
      {"s":2.0,"txt":"s = 2,0 kJ/kgK","h":558.6,"p":170.3}
    ],
    "tlabels": [
      {"txt":"T = -40 °C","h":433.3,"p":11.6},
      {"txt":"T = -20 °C","h":453.7,"p":11.6},
      {"txt":"T = 0 °C","h":474.1,"p":11.6},
      {"txt":"T = 20 °C","h":492.6,"p":11.6},
      {"txt":"T = 40 °C","h":511.1,"p":11.6},
      {"txt":"T = 60 °C","h":529.6,"p":11.6},
      {"txt":"T = 80 °C","h":549.4,"p":11.6},
      {"txt":"T = 100 °C","h":569.1,"p":11.6},
      {"txt":"T = 120 °C","h":587.7,"p":11.6}
    ]
  },
  "layer": [
    {
      "data": {"name": "isentropes"},
      "mark": {"type": "rule", "clip": true, "strokeDash": [4, 3]},
      "encoding": {
        "x": {"field": "h1", "type": "quantitative", "scale": {"domain": [100, 600], "nice": false, "zero": false}, "title": "Specific Enthalpy [kJ/kg]",
              "axis": {"values": [100, 183.333, 266.667, 350, 433.333, 516.667, 600], "labelExpr": "format(datum.value, '.0f')", "tickSize": 4, "labelPadding": 3, "titlePadding": 6}},
        "x2": {"field": "h2"},
        "y": {"field": "p1", "type": "quantitative", "scale": {"type": "log", "domain": [10, 200], "nice": false}, "title": "Pressure [bar]",
              "axis": {"values": [10, 100, 200], "tickSize": 4, "labelPadding": 2, "titlePadding": 6}},
        "y2": {"field": "p2"},
        "stroke": {"field": "kind", "type": "nominal", "scale": {"domain": ["labeled", "fine"], "range": ["#5bbb6e", "#a9ddb1"]}, "legend": null},
        "strokeWidth": {"field": "kind", "type": "nominal", "scale": {"type": "ordinal", "domain": ["labeled", "fine"], "range": [1, 0.8]}, "legend": null}
      }
    },
    {
      "data": {"name": "isotherms"},
      "mark": {"type": "line", "clip": true},
      "encoding": {
        "x": {"field": "h", "type": "quantitative", "scale": {"domain": [100, 600], "nice": false, "zero": false}, "title": "Specific Enthalpy [kJ/kg]"},
        "y": {"field": "p", "type": "quantitative", "scale": {"type": "log", "domain": [10, 200], "nice": false}, "title": "Pressure [bar]"},
        "detail": {"field": "T", "type": "nominal"},
        "order": {"field": "o", "type": "quantitative"},
        "stroke": {"field": "kind", "type": "nominal", "scale": {"domain": ["major", "minor"], "range": ["#d65252", "#f0a5a5"]}, "legend": null},
        "strokeWidth": {"field": "kind", "type": "nominal", "scale": {"type": "ordinal", "domain": ["major", "minor"], "range": [1.1, 0.9]}, "legend": null}
      }
    },
    {
      "data": {"name": "quality"},
      "mark": {"type": "line", "clip": true, "color": "#8f8f8f", "strokeWidth": 0.9},
      "encoding": {
        "x": {"field": "h", "type": "quantitative", "scale": {"domain": [100, 600], "nice": false, "zero": false}, "title": "Specific Enthalpy [kJ/kg]"},
        "y": {"field": "p", "type": "quantitative", "scale": {"type": "log", "domain": [10, 200], "nice": false}, "title": "Pressure [bar]"},
        "detail": {"field": "x", "type": "nominal"},
        "order": {"field": "o", "type": "quantitative"}
      }
    },
    {
      "data": {"name": "gridH"},
      "mark": {"type": "rule", "color": "#6e6e6e", "strokeWidth": 1},
      "encoding": {
        "x": {"field": "h", "type": "quantitative", "scale": {"domain": [100, 600], "nice": false, "zero": false}, "title": "Specific Enthalpy [kJ/kg]"}
      }
    },
    {
      "data": {"name": "gridP"},
      "mark": {"type": "rule", "color": "#6e6e6e", "strokeWidth": 1},
      "encoding": {
        "y": {"field": "p", "type": "quantitative", "scale": {"type": "log", "domain": [10, 200], "nice": false}, "title": "Pressure [bar]"}
      }
    },
    {
      "data": {"name": "dome"},
      "mark": {"type": "line", "clip": true, "color": "#111", "strokeWidth": 2.3},
      "encoding": {
        "x": {"field": "h", "type": "quantitative", "scale": {"domain": [100, 600], "nice": false, "zero": false}, "title": "Specific Enthalpy [kJ/kg]"},
        "y": {"field": "p", "type": "quantitative", "scale": {"type": "log", "domain": [10, 200], "nice": false}, "title": "Pressure [bar]"},
        "order": {"field": "o", "type": "quantitative"}
      }
    },
    {
      "data": {"name": "leaders"},
      "mark": {"type": "rule", "color": "#2a2a2a"},
      "encoding": {
        "x": {"field": "h1", "type": "quantitative", "scale": {"domain": [100, 600], "nice": false, "zero": false}, "title": "Specific Enthalpy [kJ/kg]"},
        "x2": {"field": "h2"},
        "y": {"field": "p", "type": "quantitative", "scale": {"type": "log", "domain": [10, 200], "nice": false}, "title": "Pressure [bar]"},
        "strokeWidth": {"field": "kind", "type": "nominal", "scale": {"type": "ordinal", "domain": ["leader", "underline"], "range": [2, 1.6]}, "legend": null}
      }
    },
    {
      "data": {"name": "cycles"},
      "mark": {"type": "line"},
      "encoding": {
        "x": {"field": "h", "type": "quantitative", "scale": {"domain": [100, 600], "nice": false, "zero": false}, "title": "Specific Enthalpy [kJ/kg]"},
        "y": {"field": "p", "type": "quantitative", "scale": {"type": "log", "domain": [10, 200], "nice": false}, "title": "Pressure [bar]"},
        "order": {"field": "o", "type": "quantitative"},
        "color": {"field": "series", "type": "nominal",
                  "scale": {"domain": ["Experiment - CM – IT – 48 Hz (10.24.2023)", "Simulation - CM – IT – 48 Hz"], "range": ["#1f62c9", "#d3262b"]},
                  "legend": {"title": null, "orient": "none", "legendX": 0, "legendY": 375, "direction": "vertical",
                             "symbolType": "M-1.3,0H-0.5M0.5,0H1.3M-0.33,0A0.33,0.33 0 1,0 0.33,0A0.33,0.33 0 1,0 -0.33,0Z",
                             "symbolSize": 289, "symbolStrokeWidth": 2.6, "labelFont": "Noto Sans", "labelFontSize": 12.5, "labelColor": "#333", "labelLimit": 500, "rowPadding": 0, "labelOffset": 6,
                             "encode": {"symbols": {"update": {"fill": {"signal": "indexof(datum.label, 'Sim') === 0 ? '#d3262b' : '#9a9a9a'"}}}}}},
        "strokeDash": {"field": "series", "type": "nominal", "scale": {"domain": ["Experiment - CM – IT – 48 Hz (10.24.2023)", "Simulation - CM – IT – 48 Hz"], "range": [[11, 6], [9, 5]]}, "legend": null},
        "strokeWidth": {"field": "series", "type": "nominal", "scale": {"type": "ordinal", "domain": ["Experiment - CM – IT – 48 Hz (10.24.2023)", "Simulation - CM – IT – 48 Hz"], "range": [3.6, 3]}, "legend": null}
      }
    },
    {
      "data": {"name": "circles"},
      "mark": {"type": "point", "shape": "circle", "filled": false, "size": 1850, "strokeWidth": 2.3, "opacity": 1},
      "encoding": {
        "x": {"field": "h", "type": "quantitative", "scale": {"domain": [100, 600], "nice": false, "zero": false}, "title": "Specific Enthalpy [kJ/kg]"},
        "y": {"field": "p", "type": "quantitative", "scale": {"type": "log", "domain": [10, 200], "nice": false}, "title": "Pressure [bar]"},
        "stroke": {"field": "c", "type": "nominal", "scale": {"domain": ["HP", "LP"], "range": ["#c81e1e", "#2f55a3"]}, "legend": null}
      }
    },
    {
      "data": {"name": "states"},
      "mark": {"type": "point", "shape": "circle", "filled": true, "opacity": 1},
      "encoding": {
        "x": {"field": "h", "type": "quantitative", "scale": {"domain": [100, 600], "nice": false, "zero": false}, "title": "Specific Enthalpy [kJ/kg]"},
        "y": {"field": "p", "type": "quantitative", "scale": {"type": "log", "domain": [10, 200], "nice": false}, "title": "Pressure [bar]"},
        "fill": {"field": "series", "type": "nominal", "scale": {"domain": ["Experiment", "Simulation"], "range": ["#a3a3a3", "#d3262b"]}, "legend": null},
        "stroke": {"field": "series", "type": "nominal", "scale": {"domain": ["Experiment", "Simulation"], "range": ["#6f6f6f", "#2f62c0"]}, "legend": null},
        "size": {"field": "series", "type": "nominal", "scale": {"type": "ordinal", "domain": ["Experiment", "Simulation"], "range": [45, 70]}, "legend": null},
        "strokeWidth": {"value": 1.5}
      }
    },
    {
      "data": {"name": "notes"},
      "mark": {"type": "text", "align": "left", "baseline": "alphabetic", "font": "Liberation Sans", "fontWeight": "bold"},
      "encoding": {
        "x": {"field": "h", "type": "quantitative", "scale": {"domain": [100, 600], "nice": false, "zero": false}, "title": "Specific Enthalpy [kJ/kg]"},
        "y": {"field": "p", "type": "quantitative", "scale": {"type": "log", "domain": [10, 200], "nice": false}, "title": "Pressure [bar]"},
        "text": {"field": "txt"},
        "color": {"field": "kind", "type": "nominal", "scale": {"domain": ["label", "exp", "sim", "delta", "sub"], "range": ["#1a1a1a", "#4a78d0", "#d01f1f", "#1a1a1a", "#1a1a1a"]}, "legend": null},
        "size": {"field": "kind", "type": "nominal", "scale": {"type": "ordinal", "domain": ["label", "exp", "sim", "delta", "sub"], "range": [17, 13.5, 13.5, 17.5, 11]}, "legend": null}
      }
    },
    {
      "data": {"name": "slabels"},
      "mark": {"type": "text", "align": "center", "baseline": "middle", "font": "Liberation Sans", "fontSize": 7, "color": "#3aa655"},
      "encoding": {
        "x": {"field": "h", "type": "quantitative", "scale": {"domain": [100, 600], "nice": false, "zero": false}, "title": "Specific Enthalpy [kJ/kg]"},
        "y": {"field": "p", "type": "quantitative", "scale": {"type": "log", "domain": [10, 200], "nice": false}, "title": "Pressure [bar]"},
        "text": {"field": "txt"},
        "angle": {"field": "s", "type": "quantitative", "scale": {"domain": [0.6, 1.3, 1.4, 1.6, 1.7, 1.8, 2.0], "range": [288, 288, 295, 297, 305, 313, 318]}, "legend": null}
      }
    },
    {
      "data": {"name": "tlabels"},
      "mark": {"type": "text", "align": "center", "baseline": "middle", "font": "Liberation Sans", "fontSize": 7, "color": "#d04545", "angle": 90},
      "encoding": {
        "x": {"field": "h", "type": "quantitative", "scale": {"domain": [100, 600], "nice": false, "zero": false}, "title": "Specific Enthalpy [kJ/kg]"},
        "y": {"field": "p", "type": "quantitative", "scale": {"type": "log", "domain": [10, 200], "nice": false}, "title": "Pressure [bar]"},
        "text": {"field": "txt"}
      }
    }
  ]
}
